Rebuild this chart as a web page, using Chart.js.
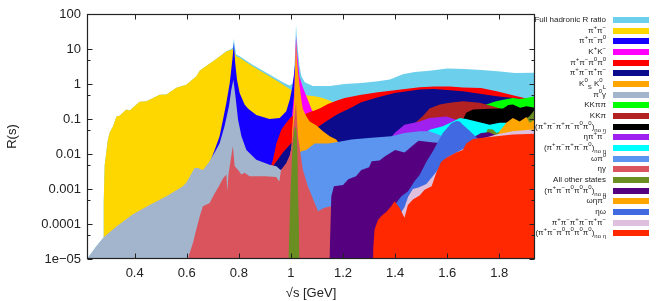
<!DOCTYPE html>
<html><head><meta charset="utf-8">
<script src="https://cdn.jsdelivr.net/npm/chart.js@4.4.1/dist/chart.umd.min.js"></script>
<style>
html,body{margin:0;padding:0;background:#fff;}
#wrap{position:relative;width:664px;height:301px;overflow:hidden;}
#c{position:absolute;left:0;top:0;}
#legend{position:absolute;left:535px;top:0;width:129px;height:301px;font-family:"Liberation Sans",Arial,sans-serif;font-size:8px;color:#222;}
.row{position:absolute;left:0;width:129px;height:10px;}
.lab{position:absolute;right:58px;top:0;line-height:10px;white-space:nowrap;text-align:right;}
.sw{position:absolute;left:78px;width:36px;height:6px;top:2px;}
sup,sub{font-size:6px;line-height:0;}
</style></head>
<body>
<div id="wrap"><canvas id="c" width="664" height="301"></canvas><div id="legend"></div></div>
<script>
// ---- data: [sqrt(s) GeV, R] ----
const FULL = [[0.217,1.0e-5],[0.253,2.3e-5],[0.2795,4.0e-5],[0.281,4e-4],[0.285,5e-3],[0.291,0.011],[0.297,0.025],[0.304,0.041],[0.317,0.062],[0.330,0.117],[0.342,0.123],[0.368,0.186],[0.381,0.174],[0.419,0.31],[0.445,0.32],[0.496,0.49],[0.522,0.50],[0.560,0.78],[0.598,0.95],[0.637,1.66],[0.650,2.45],[0.701,4.47],[0.752,8.6],[0.771,10],[0.777,11],[0.781,19.5],[0.785,11],[0.790,7.0],[0.803,6.2],[0.854,3.5],[0.906,2.1],[0.957,1.25],[0.982,1.0],[0.995,0.9],[1.005,1.0],[1.012,1.6],[1.016,8],[1.0195,49],[1.023,18],[1.027,9],[1.033,3.2],[1.040,1.7],[1.053,1.12],[1.084,0.88],[1.15,0.88],[1.206,1.0],[1.27,1.07],[1.334,1.2],[1.38,1.35],[1.43,1.9],[1.475,2.2],[1.532,2.4],[1.60,2.75],[1.667,2.7],[1.73,2.5],[1.794,2.3],[1.859,2.05],[1.937,2.1]];
const PIPI = [[0.2795,1e-6],[0.281,4e-4],[0.285,5e-3],[0.291,0.011],[0.297,0.025],[0.304,0.041],[0.317,0.062],[0.330,0.117],[0.342,0.123],[0.368,0.186],[0.381,0.174],[0.419,0.31],[0.445,0.32],[0.496,0.49],[0.522,0.50],[0.560,0.78],[0.598,0.95],[0.637,1.66],[0.650,2.45],[0.701,4.47],[0.752,8.5],[0.771,9.5],[0.777,10],[0.781,9.0],[0.790,6.2],[0.803,5.6],[0.854,3.16],[0.906,1.86],[0.957,1.1],[0.995,0.72],[1.02,0.55],[1.04,0.5],[1.065,0.47],[1.09,0.45],[1.11,0.42],[1.13,0.38],[1.15,0.33],[1.17,0.28],[1.19,0.22],[1.25,0.15],[1.4,0.08],[1.5,0.05],[1.6,0.035],[1.7,0.025],[1.8,0.018],[1.937,0.012]];
const PIPIPI0 = [[0.60,1e-6],[0.65,1e-3],[0.688,5.5e-3],[0.707,0.013],[0.726,0.032],[0.739,0.095],[0.752,0.29],[0.765,1.07],[0.775,4.9],[0.781,14.8],[0.786,4.0],[0.793,1.32],[0.803,0.55],[0.822,0.26],[0.835,0.2],[0.867,0.13],[0.918,0.1],[0.957,0.107],[0.982,0.166],[0.995,0.35],[1.005,0.8],[1.012,2],[1.0195,7],[1.027,1.5],[1.035,0.3],[1.05,0.08],[1.1,0.04],[1.2,0.03],[1.3,0.05],[1.4,0.07],[1.5,0.08],[1.6,0.09],[1.7,0.08],[1.8,0.05],[1.937,0.03]];
const KPKM = [[0.987,1e-6],[0.995,0.02],[1.005,0.15],[1.012,0.5],[1.016,4],[1.0195,24],[1.023,9],[1.027,4.5],[1.033,1.6],[1.046,0.8],[1.065,0.35],[1.078,0.2],[1.09,0.13],[1.1,0.1],[1.2,0.06],[1.4,0.05],[1.6,0.04],[1.937,0.02]];
const PIPI2PI0 = [[0.85,1e-6],[0.90,1.5e-3],[0.925,5e-3],[0.931,6.9e-3],[0.944,0.02],[0.963,0.049],[0.982,0.078],[1.002,0.117],[1.02,0.12],[1.04,0.12],[1.065,0.15],[1.085,0.17],[1.11,0.2],[1.142,0.27],[1.174,0.33],[1.206,0.4],[1.27,0.49],[1.334,0.58],[1.398,0.66],[1.494,0.81],[1.55,0.85],[1.61,0.85],[1.66,0.79],[1.73,0.77],[1.79,0.62],[1.86,0.46],[1.9,0.39],[1.937,0.34]];
const PIPIPIPI = [[0.85,1e-6],[0.90,1e-3],[0.931,4.5e-3],[0.969,0.011],[1.0,0.02],[1.03,0.035],[1.06,0.045],[1.098,0.055],[1.14,0.09],[1.18,0.14],[1.225,0.2],[1.27,0.3],[1.334,0.42],[1.398,0.55],[1.494,0.70],[1.55,0.72],[1.66,0.62],[1.79,0.45],[1.85,0.40],[1.90,0.36],[1.937,0.33]];
const KSKL = [[0.995,1e-6],[1.0,5e-3],[1.005,0.05],[1.012,0.3],[1.016,3],[1.0195,16],[1.023,5],[1.027,2.2],[1.033,0.9],[1.040,0.35],[1.046,0.19],[1.059,0.12],[1.072,0.085],[1.098,0.065],[1.123,0.045],[1.149,0.032],[1.174,0.026],[1.183,0.021],[1.19,0.008],[1.3,0.005],[1.5,0.003],[1.937,0.002]];
const PI0GAMMA = [[0.217,1.0e-5],[0.253,2.3e-5],[0.281,4.2e-5],[0.330,8.5e-5],[0.393,1.9e-4],[0.457,3.5e-4],[0.522,6.2e-4],[0.585,1.2e-3],[0.598,1.5e-3],[0.630,4.0e-3],[0.643,4.0e-3],[0.662,3.5e-3],[0.688,6.2e-3],[0.707,0.011],[0.726,0.020],[0.745,0.062],[0.762,0.23],[0.771,0.69],[0.779,1.32],[0.787,0.45],[0.797,0.095],[0.810,0.032],[0.829,0.013],[0.867,6.9e-3],[0.918,4.9e-3],[0.944,4.5e-3],[0.96,3.5e-3],[0.976,4e-3],[0.995,8e-3],[1.01,0.03],[1.0195,0.06],[1.03,0.02],[1.05,3e-3],[1.1,1e-3],[1.3,1e-4],[1.937,2e-5]];
const KKPIPI = [[1.27,1e-6],[1.4,0.01],[1.5,0.05],[1.6,0.12],[1.7,0.2],[1.756,0.27],[1.775,0.30],[1.788,0.32],[1.82,0.36],[1.852,0.40],[1.88,0.37],[1.904,0.40],[1.937,0.45]];
const KKPI = [[1.2,1e-6],[1.3,0.005],[1.4,0.03],[1.47,0.07],[1.506,0.12],[1.532,0.2],[1.571,0.26],[1.609,0.29],[1.66,0.32],[1.724,0.29],[1.775,0.23],[1.82,0.18],[1.88,0.15],[1.937,0.13]];
const SIXPI_2PI0 = [[1.35,1e-6],[1.5,0.01],[1.6,0.04],[1.655,0.08],[1.673,0.15],[1.699,0.186],[1.763,0.195],[1.814,0.2],[1.835,0.25],[1.852,0.26],[1.88,0.21],[1.904,0.23],[1.937,0.21]];
const ETAPIPI = [[1.1,1e-6],[1.2,1e-3],[1.3,0.008],[1.36,0.02],[1.385,0.03],[1.398,0.04],[1.436,0.069],[1.494,0.085],[1.532,0.107],[1.597,0.117],[1.635,0.095],[1.66,0.07],[1.7,0.05],[1.8,0.03],[1.937,0.02]];
const FIVEPI_1PI0 = [[1.3,1e-6],[1.45,0.01],[1.50,0.03],[1.532,0.049],[1.583,0.062],[1.622,0.085],[1.648,0.107],[1.673,0.1],[1.712,0.085],[1.763,0.069],[1.801,0.078],[1.840,0.078],[1.878,0.06],[1.937,0.05]];
const OMEGAPI0 = [[0.92,1e-6],[0.95,3e-4],[0.99,4e-3],[1.02,8e-3],[1.04,0.012],[1.059,0.013],[1.091,0.02],[1.142,0.02],[1.180,0.022],[1.232,0.026],[1.309,0.029],[1.385,0.032],[1.436,0.040],[1.494,0.045],[1.532,0.045],[1.571,0.035],[1.61,0.025],[1.7,0.015],[1.8,0.01],[1.937,0.006]];
const ETAGAMMA = [[0.604,1e-6],[0.607,1.2e-5],[0.624,2.9e-5],[0.630,4.5e-5],[0.650,1.7e-4],[0.662,3.2e-4],[0.688,4.0e-4],[0.701,6.2e-4],[0.726,1.3e-3],[0.739,2.0e-3],[0.752,2.6e-3],[0.756,8.5e-4],[0.760,2.6e-3],[0.765,4.5e-3],[0.777,0.017],[0.784,4.5e-3],[0.797,3.5e-3],[0.810,2.6e-3],[0.822,2.9e-3],[0.841,2.3e-3],[0.90,2.3e-3],[0.944,2.2e-3],[0.955,1.6e-3],[0.962,3.5e-3],[0.982,5.5e-3],[0.995,9e-3],[1.002,0.015],[1.008,0.049],[1.0195,0.3],[1.027,0.032],[1.046,3.5e-3],[1.065,1.2e-3],[1.091,4e-4],[1.104,2.3e-4],[1.129,2.9e-4],[1.155,3.2e-4],[1.2,2.5e-4],[1.4,1e-4],[1.937,3e-5]];
const OTHER = [[0.985,1e-6],[0.991,1e-5],[0.995,1.3e-4],[0.999,1.2e-3],[1.005,0.011],[1.013,0.049],[1.0175,0.062],[1.021,0.05],[1.025,0.011],[1.027,1.2e-3],[1.030,1.3e-4],[1.032,1e-5],[1.035,1e-6],[1.70,1e-6],[1.73,0.02],[1.756,0.052],[1.775,0.05],[1.79,0.04],[1.82,0.05],[1.85,0.07],[1.88,0.07],[1.90,0.1],[1.916,0.12],[1.937,0.19]];
const FIVEPI_3PI0 = [[1.146,1e-6],[1.150,3e-5],[1.155,6.2e-4],[1.165,1.2e-3],[1.20,1.3e-3],[1.22,1.9e-3],[1.25,2.3e-3],[1.27,3.5e-3],[1.30,4.2e-3],[1.31,6.2e-3],[1.34,6.5e-3],[1.36,8.5e-3],[1.40,0.013],[1.436,0.011],[1.47,0.018],[1.49,0.024],[1.53,0.022],[1.56,0.021],[1.62,0.025],[1.70,0.03],[1.73,0.04],[1.76,0.042],[1.785,0.035],[1.85,0.03],[1.937,0.025]];
const OMEGAETAPI0 = [[1.6,1e-6],[1.7,0.005],[1.775,0.015],[1.79,0.03],[1.801,0.045],[1.827,0.078],[1.852,0.107],[1.878,0.085],[1.904,0.115],[1.916,0.078],[1.937,0.095]];
const ETAOMEGA = [[1.33,1e-6],[1.36,5e-5],[1.39,2.5e-4],[1.398,3.5e-4],[1.424,6.2e-4],[1.449,8.5e-4],[1.475,1.7e-3],[1.494,2.5e-3],[1.52,6e-3],[1.545,0.012],[1.564,0.022],[1.583,0.04],[1.60,0.055],[1.616,0.075],[1.635,0.088],[1.648,0.085],[1.66,0.068],[1.686,0.046],[1.712,0.03],[1.74,0.02],[1.8,0.012],[1.937,0.006]];
const SIXPI_CH = [[1.38,1e-6],[1.40,5e-5],[1.42,2e-4],[1.436,3e-4],[1.45,6e-4],[1.468,1e-3],[1.49,1.1e-3],[1.52,1.4e-3],[1.55,2.6e-3],[1.57,4e-3],[1.6,0.008],[1.7,0.02],[1.74,0.028],[1.788,0.036],[1.852,0.045],[1.916,0.049],[1.937,0.05]];
const SIXPI_4PI0 = [[1.313,1e-6],[1.316,2e-5],[1.321,7e-5],[1.334,1.3e-4],[1.347,1.7e-4],[1.366,2.2e-4],[1.385,3.2e-4],[1.398,4.5e-4],[1.417,2.9e-4],[1.436,1.5e-4],[1.449,3.5e-4],[1.468,5e-4],[1.494,6.5e-4],[1.513,9.5e-4],[1.540,1.2e-3],[1.558,2.9e-3],[1.577,6e-3],[1.597,7.8e-3],[1.635,0.011],[1.66,0.013],[1.673,0.02],[1.699,0.027],[1.737,0.029],[1.788,0.032],[1.852,0.036],[1.937,0.038]];

const SERIES = [FULL,PIPI,PIPIPI0,KPKM,PIPI2PI0,PIPIPIPI,KSKL,PI0GAMMA,KKPIPI,KKPI,SIXPI_2PI0,ETAPIPI,FIVEPI_1PI0,OMEGAPI0,ETAGAMMA,OTHER,FIVEPI_3PI0,OMEGAETAPI0,ETAOMEGA,SIXPI_CH,SIXPI_4PI0];
const NAMES = ['Full hadronic R ratio','π+π−','π+π−π0','K+K−','π+π−π0π0','π+π−π+π−','K0S K0L','π0γ','KKππ','KKπ','(π+π−π+π−π0π0)no η','ηπ+π−','(π+π−π+π−π0)no η','ωπ0','ηγ','All other states','(π+π−π0π0π0)no η','ωηπ0','ηω','π+π−π+π−π+π−','(π+π−π0π0π0π0)no η'];
const NAMES_HTML = ['Full hadronic R ratio','π<sup>+</sup>π<sup>−</sup>','π<sup>+</sup>π<sup>−</sup>π<sup>0</sup>','K<sup>+</sup>K<sup>−</sup>','π<sup>+</sup>π<sup>−</sup>π<sup>0</sup>π<sup>0</sup>','π<sup>+</sup>π<sup>−</sup>π<sup>+</sup>π<sup>−</sup>','K<sup>0</sup><sub>S</sub> K<sup>0</sup><sub>L</sub>','π<sup>0</sup>γ','KKππ','KKπ','(π<sup>+</sup>π<sup>−</sup>π<sup>+</sup>π<sup>−</sup>π<sup>0</sup>π<sup>0</sup>)<sub>no η</sub>','ηπ<sup>+</sup>π<sup>−</sup>','(π<sup>+</sup>π<sup>−</sup>π<sup>+</sup>π<sup>−</sup>π<sup>0</sup>)<sub>no η</sub>','ωπ<sup>0</sup>','ηγ','All other states','(π<sup>+</sup>π<sup>−</sup>π<sup>0</sup>π<sup>0</sup>π<sup>0</sup>)<sub>no η</sub>','ωηπ<sup>0</sup>','ηω','π<sup>+</sup>π<sup>−</sup>π<sup>+</sup>π<sup>−</sup>π<sup>+</sup>π<sup>−</sup>','(π<sup>+</sup>π<sup>−</sup>π<sup>0</sup>π<sup>0</sup>π<sup>0</sup>π<sup>0</sup>)<sub>no η</sub>'];
const COLORS = ['#6ccfec','#ffd700','#1500ff','#ff00ff','#ff0000','#0b0b8b','#ffa500','#a2b5cd','#00ff00','#b22222','#000000','#a020f0','#00ffff','#5b95f0','#d9545c','#6b8e23','#55007f','#ffa500','#4169e1','#dec0de','#ff2800'];

const X_TICKS = [0.4,0.6,0.8,1,1.2,1.4,1.6,1.8];
const X_LABELS = ['0.4','0.6','0.8','1','1.2','1.4','1.6','1.8'];
const Y_TICKS = [1e-5,1e-4,1e-3,1e-2,1e-1,1,10,100];
const Y_LABELS = ['1e\u221205','0.0001','0.001','0.01','0.1','1','10','100'];
const Y_MINOR = [5e-5,5e-4,5e-3,5e-2,0.5,5];

const FONT = '"Liberation Sans", Arial, sans-serif';
const N = SERIES.length;
const datasets = SERIES.map((s,i)=>({
  label: NAMES[i],
  data: s.map(p=>({x:p[0],y:p[1]})),
  backgroundColor: COLORS[i],
  borderColor: 'rgba(0,0,0,0)',
  borderWidth: 0,
  pointRadius: 0,
  tension: 0,
  fill: 'start',
  order: N - i
}));

const framePlugin = {
  id:'frame',
  afterDatasetsDraw(chart){
    const {ctx, chartArea:a, scales:{x,y}} = chart;
    ctx.save();
    ctx.strokeStyle = '#222'; ctx.lineWidth = 1.2;
    const L = Math.round(a.left)+0.5, R = Math.round(a.right)-0.5, T = Math.round(a.top)+0.5, B = Math.round(a.bottom)-0.5;
    ctx.strokeRect(L, T, R-L, B-T);
    ctx.lineWidth = 1;
    ctx.beginPath();
    X_TICKS.forEach(v=>{ const p = Math.round(x.getPixelForValue(v))+0.5; ctx.moveTo(p,B); ctx.lineTo(p,B-5); ctx.moveTo(p,T); ctx.lineTo(p,T+5); });
    Y_TICKS.forEach(v=>{ const p = Math.round(y.getPixelForValue(v))+0.5; ctx.moveTo(L,p); ctx.lineTo(L+5,p); ctx.moveTo(R,p); ctx.lineTo(R-5,p); });
    Y_MINOR.forEach(v=>{ const p = Math.round(y.getPixelForValue(v))+0.5; ctx.moveTo(L,p); ctx.lineTo(L+3,p); ctx.moveTo(R,p); ctx.lineTo(R-3,p); });
    ctx.stroke();
    ctx.restore();
  }
};

new Chart(document.getElementById('c').getContext('2d'), {
  type:'line',
  data:{datasets},
  options:{
    responsive:false, animation:false, devicePixelRatio:1,
    layout:{padding:{left:0,right:129,top:14,bottom:0}},
    plugins:{legend:{display:false}, tooltip:{enabled:false}},
    scales:{
      x:{type:'linear', min:0.217, max:1.937,
        afterBuildTicks:s=>{ s.ticks = X_TICKS.map(v=>({value:v})); },
        afterFit:s=>{ s.height = 42; },
        ticks:{font:{size:13,family:FONT}, color:'#222', padding:7, maxRotation:0, autoSkip:false, callback:(v,i)=>X_LABELS[i]},
        grid:{display:false, drawTicks:false}, border:{display:false},
        title:{display:true, text:'√s [GeV]', font:{size:13,family:FONT}, color:'#222', padding:{top:0,bottom:0}}
      },
      y:{type:'logarithmic', min:1e-5, max:100,
        afterBuildTicks:s=>{ s.ticks = Y_TICKS.map(v=>({value:v})); },
        afterFit:s=>{ s.width = 87; },
        ticks:{font:{size:13,family:FONT}, color:'#222', padding:6, autoSkip:false, callback:(v,i)=>Y_LABELS[i]},
        grid:{display:false, drawTicks:false}, border:{display:false},
        title:{display:true, text:'R(s)', font:{size:13,family:FONT}, color:'#222', padding:{top:5,bottom:0}}
      }
    }
  },
  plugins:[framePlugin]
});

// legend (HTML text)
const leg = document.getElementById('legend');
NAMES_HTML.forEach((h,i)=>{
  const row = document.createElement('div');
  row.className = 'row';
  row.style.top = (20 + 10.67*i - 5).toFixed(1) + 'px';
  row.innerHTML = '<span class="lab">'+h+'</span><span class="sw" style="background:'+COLORS[i]+'"></span>';
  leg.appendChild(row);
});
</script>
</body></html>
